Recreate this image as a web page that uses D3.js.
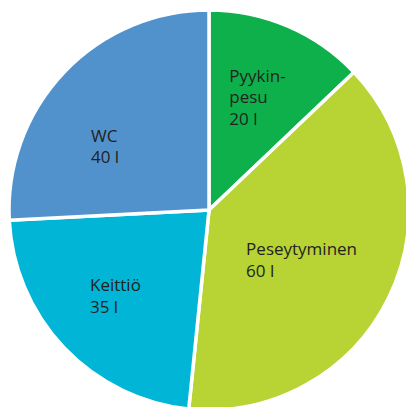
<!DOCTYPE html>
<html lang="fi">
<head>
  <meta charset="UTF-8">
  <title>Veden kulutus</title>
  <script src="https://cdn.jsdelivr.net/npm/d3@7"></script>
  <style>
    html, body { margin: 0; padding: 0; background: #fff; }
    svg { display: block; }
  </style>
</head>
<body>
  <div id="chart"></div>
  <script>
    // data (litres)
    const names = ['Pyykin-\npesu', 'Peseytyminen', 'Keittiö', 'WC'];
    const litres = [20, 60, 35, 40];
    const colors = ['#0db04b', '#b7d334', '#00b5d5', '#5192cd'];

    const width = 406;
    const height = 407;
    const cx = 209, cy = 210, radius = 200;

    // small nudges so labels sit where the original has them
    const labelRadius = [123, 105, 127, 122];
    const labelTurn = [0, 2, 1, -12]; // degrees

    const svg = d3.select('#chart')
      .append('svg')
      .attr('width', width)
      .attr('height', height);

    const g = svg.append('g')
      .attr('transform', 'translate(' + cx + ',' + cy + ')');

    const pie = d3.pie().sort(null).value(d => d);
    const arcs = pie(litres);

    const arc = d3.arc().innerRadius(0).outerRadius(radius);

    g.selectAll('path')
      .data(arcs)
      .enter()
      .append('path')
      .attr('d', arc)
      .attr('fill', (d, i) => colors[i])
      .attr('stroke', '#fff')
      .attr('stroke-width', 3.5)
      .attr('stroke-linejoin', 'miter');

    const fontSize = 17;
    const lineH = 21.5;
    const capH = 12.5;

    arcs.forEach((d, i) => {
      const mid = (d.startAngle + d.endAngle) / 2 + labelTurn[i] * Math.PI / 180;
      const px = Math.sin(mid) * labelRadius[i];
      const py = -Math.cos(mid) * labelRadius[i];
      const lines = names[i].split('\n').concat([litres[i] + ' l']);

      const t = g.append('text')
        .attr('fill', '#231f20')
        .style('font-family', "'Open Sans', sans-serif")
        .style('font-size', fontSize + 'px');

      const spans = lines.map((s, k) => t.append('tspan').text(s));
      const w = d3.max(spans, s => s.node().getComputedTextLength());
      const blockH = capH + (lines.length - 1) * lineH;
      const x0 = px - w / 2;
      const y0 = py - blockH / 2 + capH;
      spans.forEach((s, k) => s.attr('x', x0).attr('y', y0 + k * lineH));
    });
  </script>
</body>
</html>
